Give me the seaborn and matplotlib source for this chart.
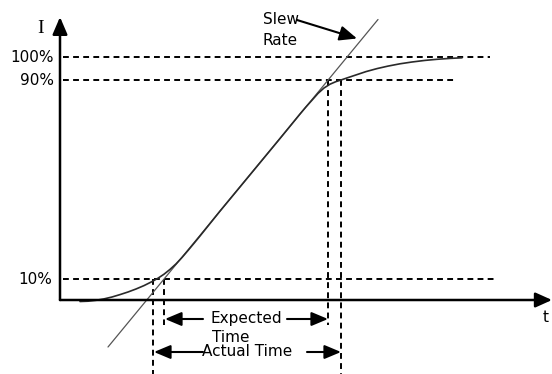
import matplotlib
matplotlib.use("Agg")
import matplotlib.pyplot as plt
import seaborn as sns
import pandas as pd

sns.set_theme(style="white")
plt.rcParams["font.family"] = ["DejaVu Sans"]

# Drawing frame: 552 x 374 units, x to the right, y downward
W, H = 552, 374

# Current response I(t)
curve_t = [80, 88, 96, 104, 112, 120, 128, 136, 144, 152, 158, 164, 170, 176,
           182, 188, 194, 200, 220, 250, 280, 300, 306, 312, 318, 324, 330,
           336, 341, 348, 357, 366, 377, 388, 400, 412, 425, 437, 450, 462]
curve_i = [301.5, 301.2, 300.3, 298.9, 297.0, 294.6, 292.0, 289.0, 285.6,
           281.6, 278.2, 274.2, 269.4, 263.9, 257.5, 250.5, 243.3, 236.0,
           211.1, 174.8, 138.5, 114.0, 106.9, 100.2, 93.4, 88.0, 84.2, 81.6,
           80.0, 77.6, 74.6, 71.6, 68.6, 66.1, 63.8, 62.0, 60.4, 59.3, 58.4, 57.8]

# Slew-rate tangent (end points)
tangent_t = [108, 378]
tangent_i = [347, 19.5]

# Reference levels
level_labels = ["100%", "90%", "10%"]
level_i = [57, 80, 279]
level_end = [490, 457, 494]
label_right = [54, 54, 52]

# Axes of the diagram
origin = (60, 300)
i_axis_top = 17
t_axis_end = 552

# Crossing times: x, top and bottom of each marker
mark_t = [153, 164, 328, 341]
mark_top = [279, 279, 80, 80]
mark_bottom = [374, 325, 325, 374]

# Interval arrows
expected_y, actual_y = 319, 352

fig = plt.figure(figsize=(W / 100, H / 100), dpi=100)
ax = fig.add_axes([0, 0, 1, 1])

dash = dict(color="black", lw=1.4, linestyle=(0, (3, 2.2)))

# level lines
for yv, xe in zip(level_i, level_end):
    ax.plot([63, xe], [yv, yv], **dash)

# vertical time markers
for xv, y0, y1 in zip(mark_t, mark_top, mark_bottom):
    ax.plot([xv, xv], [y0, y1], **dash)

# tangent and response
tan_df = pd.DataFrame({"t": tangent_t, "i": tangent_i})
sns.lineplot(data=tan_df, x="t", y="i", ax=ax, color="#555555", lw=0.9,
             sort=False, estimator=None)
cur_df = pd.DataFrame({"t": curve_t, "i": curve_i})
sns.lineplot(data=cur_df, x="t", y="i", ax=ax, color="#2a2a2a", lw=1.2,
             sort=False, estimator=None)
ax.set_xlim(0, W)
ax.set_ylim(H, 0)
ax.axis("off")


def arrow(tail, tip, lw=1.5, hl=1.0, hw=0.42):
    ax.annotate("", xy=tip, xytext=tail,
                arrowprops=dict(arrowstyle=f"-|>,head_length={hl},head_width={hw}",
                                mutation_scale=10, color="black", lw=lw,
                                shrinkA=0, shrinkB=0))


# coordinate axes
arrow(origin, (origin[0], i_axis_top), lw=1.8, hl=1.05, hw=0.45)
arrow(origin, (t_axis_end, origin[1]), lw=1.8, hl=1.0, hw=0.45)

# interval arrows
arrow((203, expected_y), (165, expected_y))
arrow((287, expected_y), (328, expected_y))
arrow((203, actual_y), (154, actual_y))
arrow((307, actual_y), (341, actual_y))

# slew rate pointer
arrow((297, 20), (357, 38.5), lw=1.5, hl=1.05, hw=0.45)

fs = 11
txt = dict(fontsize=fs, color="black", va="center")
ax.text(41, 28, "I", family="Liberation Serif", fontsize=14, color="black",
        ha="center", va="center")
ax.text(546, 318, "t", ha="center", **txt)
for lab, yv, xr in zip(level_labels, level_i, label_right):
    ax.text(xr, yv, lab, ha="right", **txt)
ax.text(263, 19, "Slew", ha="left", **txt)
ax.text(263, 40, "Rate", ha="left", **txt)
ax.text(210, expected_y, "Expected", ha="left", **txt)
ax.text(212, 338, "Time", ha="left", **txt)
ax.text(202, actual_y, "Actual Time", ha="left", **txt)

fig.savefig("out.png", dpi=100, facecolor="white")
